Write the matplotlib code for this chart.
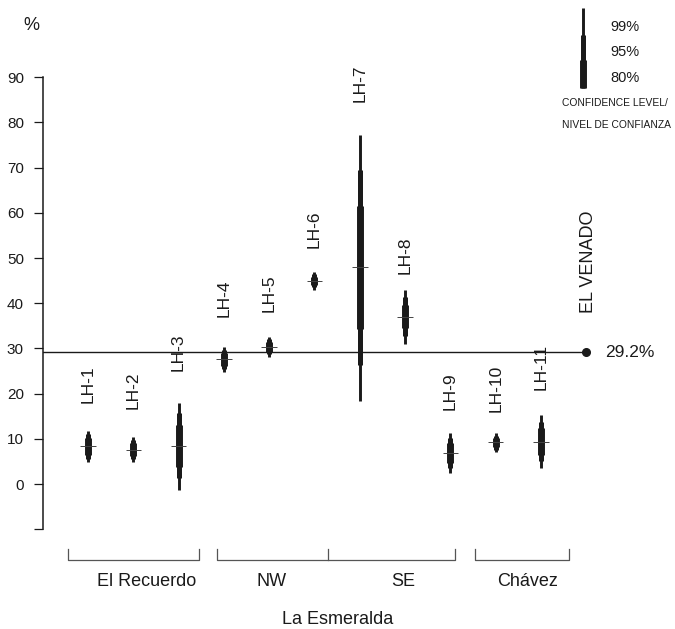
import matplotlib.pyplot as plt

plt.rcParams['font.family'] = ['Liberation Sans', 'DejaVu Sans']

# samples (x position = order along the section)
sites = ['LH-1', 'LH-2', 'LH-3', 'LH-4', 'LH-5', 'LH-6',
         'LH-7', 'LH-8', 'LH-9', 'LH-10', 'LH-11']
centers = [8.3, 7.6, 8.4, 27.6, 30.4, 45.0, 48.1, 37.0, 6.8, 9.2, 9.4]
lo99 = [4.8, 4.9, -1.3, 24.8, 28.2, 43.0, 18.4, 31.0, 2.5, 7.1, 3.5]
hi99 = [11.8, 10.4, 18.0, 30.4, 32.6, 46.9, 77.2, 42.9, 11.2, 11.2, 15.3]
lo95 = [5.6, 5.6, 1.4, 25.5, 28.8, 43.5, 26.3, 32.7, 3.5, 7.6, 5.0]
hi95 = [11.0, 9.7, 15.6, 29.7, 32.0, 46.4, 69.5, 41.3, 10.1, 10.7, 13.8]
lo80 = [6.5, 6.2, 3.8, 26.2, 29.3, 44.0, 34.2, 34.5, 4.6, 8.1, 6.4]
hi80 = [10.1, 9.0, 13.0, 29.0, 31.5, 45.9, 61.5, 39.5, 9.0, 10.2, 12.4]

venado_value = 29.2
yticks = [-10, 0, 10, 20, 30, 40, 50, 60, 70, 80, 90]
ytick_labels = ['', '0', '10', '20', '30', '40', '50', '60', '70', '80', '90']

groups = ['El Recuerdo', 'NW', 'SE', 'Chávez']

# label anchors (bottom of rotated sample names)
label_y = [17.9, 16.6, 25.0, 36.9, 38.1, 52.2, 84.6, 46.5, 16.4, 15.9, 20.8]

ink = '#1a1a1a'

fig = plt.figure(figsize=(6.75, 6.29), dpi=100)
x0 = 42.7
ax = fig.add_axes([x0 / 675, 0, 1 - x0 / 675, 1])
ax.set_xlim(0, (675 - x0) / 45.3)
ax.set_ylim(-(629 - 484) / 4.52, 484 / 4.52)

for s in ['top', 'right', 'bottom']:
    ax.spines[s].set_visible(False)
ax.spines['left'].set_bounds(-10, 90)
ax.spines['left'].set_linewidth(1.1)
ax.spines['left'].set_color(ink)
ax.set_xticks([])
ax.set_yticks(yticks)
ax.set_yticklabels(ytick_labels)
ax.tick_params(axis='y', direction='out', length=6.5, width=0.9,
               pad=7, labelsize=11, colors=ink)
ax.text(-0.24, 101.5, '%', ha='center', va='center', fontsize=13, color=ink)

# reference line for El Venado
xs = list(range(1, len(sites) + 1))
xv = len(sites) + 1
ax.plot([0, xv], [venado_value] * 2, color=ink, lw=1.0, zorder=1)
ax.plot(xv, venado_value, 'o', color=ink, ms=5.5, zorder=3)
ax.text(xv + 0.41, venado_value, '29.2%', ha='left', va='center',
        fontsize=12.5, color=ink)
ax.text(xv + 0.05, 37.8, 'EL VENADO', rotation=90, ha='center',
        va='bottom', fontsize=13, color=ink)

# confidence bars
ax.vlines(xs, lo99, hi99, color=ink, lw=2.1, zorder=2)
ax.vlines(xs, lo95, hi95, color=ink, lw=3.6, zorder=2)
ax.vlines(xs, lo80, hi80, color=ink, lw=5.0, zorder=2)
ax.hlines(centers, [x - 0.17 for x in xs], [x + 0.17 for x in xs],
          color='#444444', lw=0.7, zorder=3)

for x, name, ly in zip(xs, sites, label_y):
    ax.text(x, ly, name, rotation=90, ha='center', va='bottom',
            fontsize=12.5, color=ink)

# legend
lx = 11.93
ax.plot([lx, lx], [87.6, 105.3], color=ink, lw=2.1, solid_capstyle='butt')
ax.plot([lx, lx], [87.6, 99.3], color=ink, lw=3.6, solid_capstyle='butt')
ax.plot([lx, lx], [87.6, 93.8], color=ink, lw=5.0, solid_capstyle='butt')
for lab, yy in zip(['99%', '95%', '80%'], [101.1, 95.6, 89.8]):
    ax.text(12.53, yy, lab, ha='left', va='center', fontsize=10.5, color=ink)
ax.text(11.47, 84.3, 'CONFIDENCE LEVEL/', ha='left', va='center',
        fontsize=7.4, color=ink)
ax.text(11.47, 79.4, 'NIVEL DE CONFIANZA', ha='left', va='center',
        fontsize=7.4, color=ink)

# locality brackets
bracket_col = '#555555'
yb, yt = -16.8, -14.4
for a, b in [(0.55, 3.45), (3.85, 9.1), (9.55, 11.62)]:
    ax.plot([a, a, b, b], [yt, yb, yb, yt], color=bracket_col, lw=0.9)
ax.plot([6.3, 6.3], [yb, yt], color=bracket_col, lw=0.9)

for g, gx in zip(groups, [2.3, 5.06, 7.95, 10.71]):
    ax.text(gx, -21.5, g, ha='center', va='center', fontsize=13, color=ink)
ax.text(6.52, -29.9, 'La Esmeralda', ha='center', va='center',
        fontsize=13, color=ink)

fig.savefig('out.png', dpi=100)
